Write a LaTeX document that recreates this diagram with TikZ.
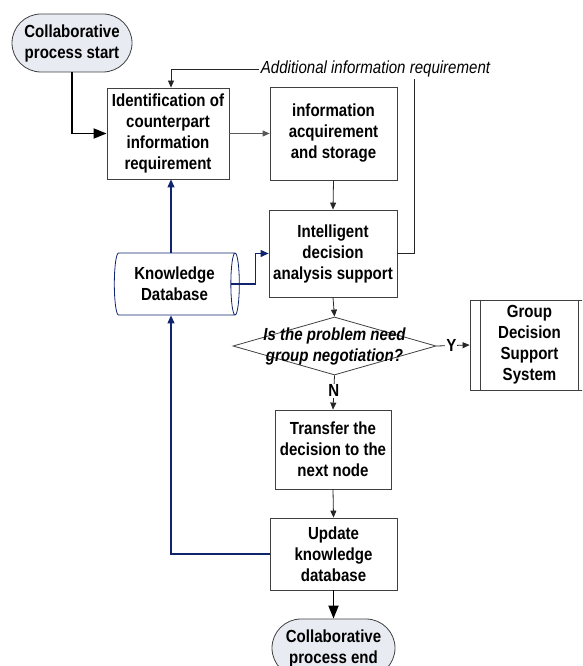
\documentclass[tikz,border=0pt]{standalone}
\usepackage{fontspec}
\setmainfont{Liberation Sans}[FakeStretch=0.86]
\usetikzlibrary{shapes.geometric,arrows.meta}
\definecolor{kbnavy}{RGB}{16,36,110}
\definecolor{termfill}{RGB}{232,236,242}
\tikzset{
  procbox/.style={draw=black!75,line width=0.8pt,align=center,inner sep=0pt,
    font=\bfseries\fontsize{17.5}{21}\selectfont},
  termbox/.style={procbox,fill=termfill,rounded corners=29pt,minimum height=58pt},
  flow/.style={-{Triangle[length=7pt,width=6pt]},draw=black!85,line width=0.8pt},
  thickflow/.style={-{Triangle[length=13pt,width=10pt]},line width=1.8pt},
  kbflow/.style={-{Triangle[length=8pt,width=7pt]},draw=kbnavy,line width=1.1pt},
  yn/.style={fill=white,inner sep=1pt,font=\bfseries\fontsize{17.5}{21}\selectfont}
}

\begin{document}
\begin{tikzpicture}[x=1pt,y=-1pt]
\useasboundingbox (0,0) rectangle (582,666);
\clip (0,0) rectangle (582,666);
% terminals
\node[termbox,minimum width=120pt] (start) at (72,43) {Collaborative\\process start};
\node[termbox,minimum width=123pt] (finish) at (333.5,648) {Collaborative\\process end};
% process boxes
\node[procbox,minimum width=122pt,minimum height=91pt] (ident) at (168,133.5)
  {Identification of\\counterpart\\information\\requirement};
\node[procbox,minimum width=127pt,minimum height=93pt] (acq) at (333.5,133.5)
  {information\\acquirement\\and storage};
\node[procbox,minimum width=128pt,minimum height=87pt] (intel) at (333,253.5)
  {Intelligent\\decision\\analysis support};
\node[procbox,minimum width=116pt,minimum height=79pt] (trans) at (333,449.5)
  {Transfer the\\decision to the\\next node};
\node[procbox,minimum width=127pt,minimum height=72pt] (upd) at (333.5,554)
  {Update\\knowledge\\database};
\node[procbox,minimum width=119pt,minimum height=90pt] (gdss) at (529.5,345)
  {Group\\Decision\\Support\\System};
\draw[draw=black!75,line width=0.8pt] ([xshift=11pt]gdss.north west) -- ([xshift=11pt]gdss.south west);
\draw[draw=black!75,line width=0.8pt] ([xshift=-11pt]gdss.north east) -- ([xshift=-11pt]gdss.south east);
% knowledge base
\node[procbox,draw=kbnavy,shape=cylinder,aspect=0.25,minimum width=62pt,minimum height=125pt] (kdb) at (174.5,284)
  {Knowledge\\Database};
% decision
\node[draw=black!75,line width=0.8pt,shape=diamond,inner sep=0pt,minimum width=203pt,minimum height=58pt] (dec) at (334.5,346) {};
\node[align=center,font=\bfseries\itshape\fontsize{17.5}{21}\selectfont] (dectext) at (dec)
  {Is the problem need\\group negotiation?};
% connectors
\draw[thickflow] (start.south) |- (ident.west);
\draw[flow,draw=black!65] (ident.east) -- (acq.west);
\draw[flow] (acq.south) -- (intel.north);
\draw[flow] (intel.south) -- (dec.north);
\draw[flow] (dec.east) -- (gdss.west) node[yn,pos=0.45] {Y};
\draw[flow] (dec.south) -- (trans.north) node[yn,pos=0.45] {N};
\draw[flow] (trans.south) -- (upd.north);
\draw[thickflow] (upd.south) -- (finish.north);
\draw[flow] (intel.east) -- (414,253.5) -- (414,69) -| ([xshift=3pt]ident.north);
\node[fill=white,inner sep=2pt,font=\itshape\fontsize{17.5}{21}\selectfont] (addinfo) at (375.5,69)
  {Additional information requirement};
\draw[kbflow] (kdb.north -| 171,0) -- (ident.south -| 171,0);
\draw[kbflow] ([xshift=-9pt]kdb.east) -- ++(25,0) |- (intel.west);
\draw[kbflow] (upd.west) -| (kdb.south -| 171,0);
\end{tikzpicture}
\end{document}
